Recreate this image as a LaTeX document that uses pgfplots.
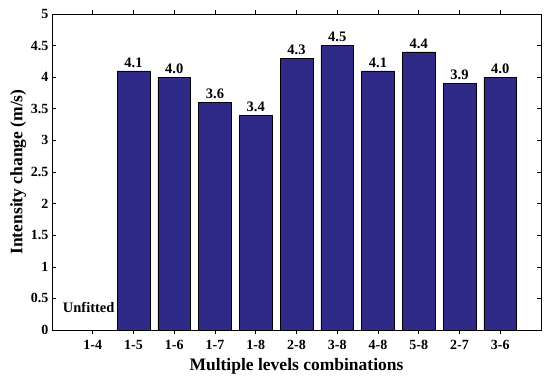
\documentclass[border=0pt]{standalone}
\usepackage{pgfplots}
\pgfplotsset{compat=1.18}
\usepackage{fontspec}
\setmainfont{Liberation Serif}
\definecolor{barblue}{HTML}{2F2A88}
\begin{document}
\begin{tikzpicture}
\path[use as bounding box] (-52bp,-46bp) rectangle (498bp,330bp);
\begin{axis}[
  at={(0,0)}, anchor=south west,
  scale only axis, width=489bp, height=316bp,
  xmin=-1, xmax=11, ymin=0, ymax=5,
  xtick={0,...,10},
  xticklabels={1-4,1-5,1-6,1-7,1-8,2-8,3-8,4-8,5-8,2-7,3-6},
  ytick={0,0.5,...,5},
  yticklabels={0,0.5,1,1.5,2,2.5,3,3.5,4,4.5,5},
  tick align=inside, major tick length=4bp,
  tick style={black, line width=0.6pt},
  axis line style={black, line width=0.7pt},
  ticklabel style={font=\fontsize{14bp}{16bp}\selectfont\bfseries},
  xticklabel style={yshift=-3bp},
  /pgf/number format/assume math mode=true,
  xlabel={\fontsize{17.5bp}{20bp}\selectfont\bfseries Multiple levels combinations},
  ylabel={\fontsize{17.5bp}{20bp}\selectfont\bfseries Intensity change (m/s)},
  xlabel style={yshift=-2bp},
  ylabel style={yshift=-2bp},
  ybar, bar width=0.8,
  nodes near coords,
  nodes near coords style={font=\fontsize{14.5bp}{16bp}\selectfont\bfseries, /pgf/number format/.cd, fixed, fixed zerofill, precision=1},
]
\addplot[fill=barblue, draw=black, line width=0.5pt] coordinates {
 (1,4.1) (2,4.0) (3,3.6) (4,3.4) (5,4.3) (6,4.5) (7,4.1) (8,4.4) (9,3.9) (10,4.0)
};
\node[font=\fontsize{14.5bp}{16bp}\selectfont\bfseries] at (axis cs:-0.1,0.35) {Unfitted};
\end{axis}
\end{tikzpicture}
\end{document}
